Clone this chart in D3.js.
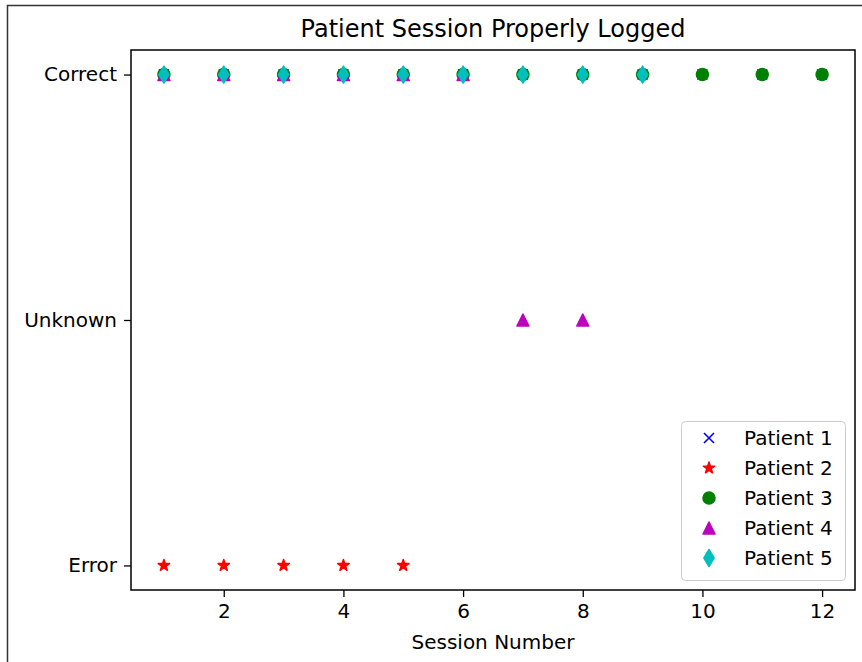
<!DOCTYPE html>
<html lang="en">
<head>
  <meta charset="UTF-8">
  <title>Patient Session Properly Logged</title>
  <script src="https://d3js.org/d3.v7.min.js"></script>
  <style>
    body { margin: 0; background: #fff; }
    svg text { font-family: "DejaVu Sans", sans-serif; fill: #000; }
    .tick text { font-size: 20px; }
    .tick line { stroke: #000; stroke-width: 1.3; }
    .domain { display: none; }
  </style>
</head>
<body>
  <svg width="862" height="662"></svg>
  <script>
    // session outcome per patient: 0 = Error, 1 = Unknown, 2 = Correct
    const statusLabels = ['Error', 'Unknown', 'Correct'];
    const xTicks = [2, 4, 6, 8, 10, 12];

    const patient1 = [2, 2, 2, 2, 2, 2, 2, 2, 2, 2, 2, 2];
    const patient2 = [0, 0, 0, 0, 0];
    const patient3 = [2, 2, 2, 2, 2, 2, 2, 2, 2, 2, 2, 2];
    const patient4 = [2, 2, 2, 2, 2, 2, 1, 1];
    const patient5 = [2, 2, 2, 2, 2, 2, 2, 2, 2];

    const series = [
      { name: 'Patient 1', values: patient1, color: '#0000ff', shape: 'x' },
      { name: 'Patient 2', values: patient2, color: '#ff0000', shape: 'star' },
      { name: 'Patient 3', values: patient3, color: '#008000', shape: 'circle' },
      { name: 'Patient 4', values: patient4, color: '#bf00bf', shape: 'triangle' },
      { name: 'Patient 5', values: patient5, color: '#00bfbf', shape: 'diamond' }
    ];

    const svg = d3.select('svg');
    const m = { left: 131, right: 855, top: 50, bottom: 590 };

    // outer frame of the screenshot
    svg.append('path')
      .attr('d', 'M7.5,662 V5.5 H862')
      .attr('fill', 'none')
      .attr('stroke', '#333')
      .attr('stroke-width', 1.5);

    const x = d3.scaleLinear().domain([0.45, 12.55]).range([m.left, m.right]);
    const y = d3.scaleLinear().domain([-0.1, 2.1]).range([m.bottom, m.top]);

    svg.append('g')
      .attr('transform', `translate(0,${m.bottom})`)
      .call(d3.axisBottom(x).tickValues(xTicks).tickSize(7).tickPadding(7).tickFormat(d3.format('d')));

    svg.append('g')
      .attr('transform', `translate(${m.left},0)`)
      .call(d3.axisLeft(y).tickValues([0, 1, 2]).tickSize(7).tickPadding(7).tickFormat(d => statusLabels[d]));

    svg.selectAll('.tick text').style('font-size', '20px');

    function drawMarker(g, shape, color) {
      if (shape === 'x') {
        g.append('path')
          .attr('d', 'M-5,-5L5,5M-5,5L5,-5')
          .attr('stroke', color)
          .attr('stroke-width', 1.6)
          .attr('fill', 'none');
        return;
      }
      let d;
      if (shape === 'diamond') d = 'M0,-8.5L5.1,0L0,8.5L-5.1,0Z';
      else if (shape === 'triangle') d = 'M0,-6L6,6L-6,6Z';
      else if (shape === 'star') d = d3.symbol(d3.symbolStar, 40)();
      else d = d3.symbol(d3.symbolCircle, 113)();
      g.append('path')
        .attr('d', d)
        .attr('fill', color)
        .attr('stroke', color)
        .attr('stroke-width', 1.5)
        .attr('stroke-linejoin', 'round');
    }

    series.forEach(s => {
      s.values.forEach((v, i) => {
        const g = svg.append('g')
          .attr('transform', `translate(${x(i + 1)},${y(v)})`);
        drawMarker(g, s.shape, s.color);
      });
    });

    // axes frame
    svg.append('rect')
      .attr('x', m.left)
      .attr('y', m.top)
      .attr('width', m.right - m.left)
      .attr('height', m.bottom - m.top)
      .attr('fill', 'none')
      .attr('stroke', '#000')
      .attr('stroke-width', 1.5);

    // legend
    const legend = svg.append('g').attr('transform', 'translate(681,421)');
    legend.append('rect')
      .attr('x', 0.5)
      .attr('y', 0.5)
      .attr('width', 164)
      .attr('height', 159)
      .attr('rx', 4)
      .attr('fill', '#fff')
      .attr('fill-opacity', 0.8)
      .attr('stroke', '#ccc');

    series.forEach((s, i) => {
      const row = legend.append('g').attr('transform', `translate(0,${17 + i * 30})`);
      drawMarker(row.append('g').attr('transform', 'translate(28,0)'), s.shape, s.color);
      row.append('text')
        .attr('x', 63)
        .attr('dy', '0.36em')
        .style('font-size', '20px')
        .text(s.name);
    });

    svg.append('text')
      .attr('x', (m.left + m.right) / 2)
      .attr('y', 37)
      .attr('text-anchor', 'middle')
      .style('font-size', '24px')
      .text('Patient Session Properly Logged');

    svg.append('text')
      .attr('x', (m.left + m.right) / 2)
      .attr('y', 649)
      .attr('text-anchor', 'middle')
      .style('font-size', '20px')
      .text('Session Number');
  </script>
</body>
</html>
